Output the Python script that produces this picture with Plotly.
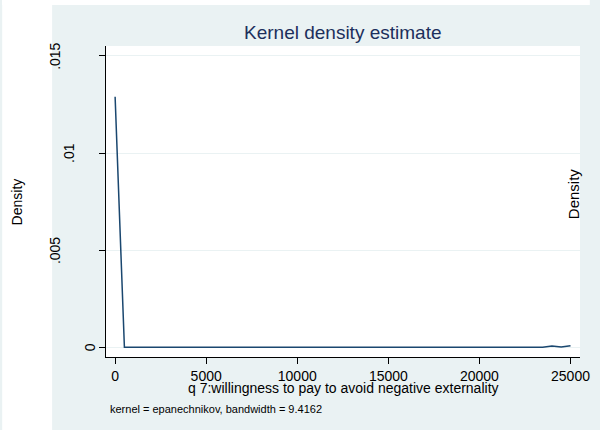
import plotly.graph_objects as go

# ---- data ----
x_eval = [0, 510, 23469, 23980, 24490, 25000]
density = [0.0129, 0.0, 0.0, 0.00006, 0.00001, 0.00008]
y_tickvals = [0, 0.005, 0.01, 0.015]
y_ticktext = ["0", ".005", ".01", ".015"]
x_tickvals = [0, 5000, 10000, 15000, 20000, 25000]
x_ticktext = ["0", "5000", "10000", "15000", "20000", "25000"]

title_text = "Kernel density estimate"
x_title = "q 7:willingness to pay to avoid negative externality"
y_title = "Density"
note_text = "kernel = epanechnikov, bandwidth = 9.4162"

# ---- style ----
FONT = "Liberation Sans, Arial, sans-serif"
BG = "#EAF2F3"
LINE = "#1a476f"
TITLE_C = "#1c2f5c"
W, H = 600, 430
L, R, T, B = 106, 10, 46, 73
PW, PH = W - L - R, H - T - B


def px_x(p):
    return (p - L) / PW


def px_y(p):
    return (H - B - p) / PH


ARIAL = {".": 0.278, "0": 0.556, "1": 0.556, "5": 0.556}


def label_shift(txt, size=14):
    w = sum(ARIAL.get(c, 0.556) for c in txt) * size
    return -(2 + 1.8 * w)


fig = go.Figure()
fig.add_trace(go.Scatter(x=x_eval, y=density, mode="lines",
                         line=dict(color=LINE, width=1.5),
                         hoverinfo="skip", showlegend=False))

ann = []
ann.append(dict(text=title_text, xref="paper", yref="paper", x=0.5, y=px_y(32),
                xanchor="center", yanchor="middle", showarrow=False,
                font=dict(family=FONT, size=19, color=TITLE_C)))
ann.append(dict(text=y_title, xref="paper", yref="paper", x=px_x(15), y=px_y(201.5),
                textangle=-90, xanchor="center", yanchor="middle", showarrow=False,
                font=dict(family=FONT, size=14, color="#000")))
ann.append(dict(text=y_title, xref="paper", yref="paper", x=px_x(583), y=px_y(194),
                textangle=-90, xanchor="center", yanchor="middle", showarrow=False,
                font=dict(family=FONT, size=15, color="#000")))
ann.append(dict(text=x_title, xref="paper", yref="paper", x=0.5, y=px_y(388),
                xanchor="center", yanchor="middle", showarrow=False,
                font=dict(family=FONT, size=14, color="#000")))
ann.append(dict(text=note_text, xref="paper", yref="paper", x=px_x(108), y=px_y(409),
                xanchor="left", yanchor="middle", showarrow=False,
                font=dict(family=FONT, size=11, color="#000")))
for v, t in zip(y_tickvals, y_ticktext):
    ann.append(dict(text=t, xref="paper", yref="y", x=0, y=v,
                    xshift=label_shift(t), textangle=-90,
                    xanchor="center", yanchor="middle", showarrow=False,
                    font=dict(family=FONT, size=14, color="#000")))

shapes = [
    dict(type="rect", xref="paper", yref="paper", x0=px_x(0), x1=px_x(51),
         y0=px_y(H), y1=px_y(0), fillcolor="white", line=dict(width=0), layer="below"),
    dict(type="rect", xref="paper", yref="paper", x0=px_x(0), x1=px_x(W),
         y0=px_y(5), y1=px_y(0), fillcolor="white", line=dict(width=0), layer="below"),
]

fig.update_layout(
    width=W, height=H, margin=dict(l=L, r=R, t=T, b=B, pad=0),
    paper_bgcolor=BG, plot_bgcolor="white",
    font=dict(family=FONT, size=14, color="#000"),
    annotations=ann, shapes=shapes, hovermode=False,
    xaxis=dict(range=[-500, 25521], tickmode="array", tickvals=x_tickvals,
               ticktext=x_ticktext, showgrid=False, zeroline=False,
               showline=True, linecolor="#000", linewidth=1,
               ticks="outside", ticklen=6, tickcolor="#000", tickwidth=1,
               tickfont=dict(family=FONT, size=14, color="#000")),
    yaxis=dict(range=[-0.0005, 0.01551], tickmode="array", tickvals=y_tickvals,
               showticklabels=False, showgrid=True, gridcolor=BG, gridwidth=1,
               zeroline=False, showline=True, linecolor="#000", linewidth=1,
               ticks="outside", ticklen=6, tickcolor="#000", tickwidth=1),
)

fig.write_html("out.html", config={"displayModeBar": False})
